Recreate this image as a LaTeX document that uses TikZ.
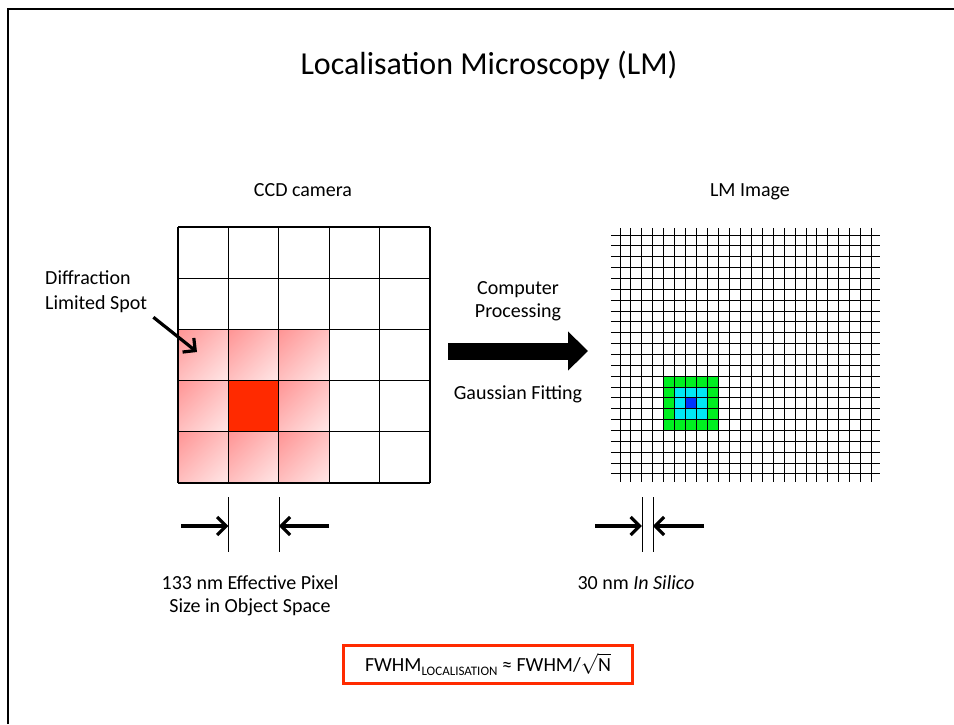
\documentclass[tikz,border=0pt]{standalone}
\usepackage{fontspec}
\setmainfont{Carlito}
\usetikzlibrary{arrows.meta,positioning,shadings}
\definecolor{lmred}{HTML}{FF2A00}
\definecolor{lmgreen}{HTML}{00F020}
\definecolor{lmcyan}{HTML}{00E8F5}
\definecolor{lmblue}{HTML}{0033FF}

\begin{document}
\begin{tikzpicture}[x=1pt, y=-1pt,
  ttl/.style={font=\fontsize{32}{38}\selectfont, inner sep=0pt},
  lbl/.style={font=\fontsize{20}{23}\selectfont, align=center, inner sep=0pt},
  cell/.style={draw=black, line width=1.2pt},
  fine/.style={draw=black, line width=0.9pt},
  spotcell/.style={upper left=red!42, lower right=red!9, upper right=red!25, lower left=red!25},
  dim/.style={-{Straight Barb[length=9pt,width=18pt]}, line width=3.2pt},
  procarrow/.style={line width=17pt, -{Triangle[length=20pt,width=38pt]}},
  fwhm/.style={draw=lmred, line width=3pt, minimum width=289pt, minimum height=38pt, font=\fontsize{20}{23}\selectfont}
]
\useasboundingbox (0,0) rectangle (954,724);
% --- slide frame ---
\draw[line width=2.5pt] (8,724) -- (8,9) -- (954,9);

% --- titles ---
\node[ttl, anchor=base] (title) at (489,74) {Localisation Microscopy (LM)};
\node[lbl, anchor=base] (ccd) at (303,196) {CCD camera};
\node[lbl, anchor=base] (lm) at (750,196) {LM Image};

% --- CCD camera: 5x5 pixels ---
\foreach \c in {0,...,2}
  \foreach \r in {2,...,4}
    \shade[spotcell] ({178+\c*50.4},{227+\r*51.2}) rectangle ++(50.4,51.2);
\fill[lmred] (228.4,380.6) rectangle ++(50.4,51.2);
\foreach \i in {0,...,5} {
  \draw[cell] ({178+\i*50.4},227) -- ({178+\i*50.4},483);
  \draw[cell] (178,{227+\i*51.2}) -- (430,{227+\i*51.2});
}
\coordinate (spottip) at (197,352);

% --- LM image: 23x22 pixels ---
\fill[lmgreen] (663.8,376.2) rectangle (718.5,430.5);
\fill[lmcyan] (674.7,387.1) rectangle (707.5,419.6);
\fill[lmblue] (685.6,397.9) rectangle (696.6,408.8);
\foreach \i in {0,...,23}
  \draw[fine] ({620+\i*10.94},228) -- ({620+\i*10.94},482);
\foreach \j in {0,...,22}
  \draw[fine] (611,{235+\j*10.86}) -- (880,{235+\j*10.86});

% --- labels ---
\node[lbl, align=left, anchor=west, font=\fontsize{20}{25}\selectfont] (spot) at (45,292) {Diffraction\\Limited Spot};
\node[lbl] (comp) at (518,301) {Computer\\Processing};
\node[lbl, anchor=base] (gauss) at (518,399) {Gaussian Fitting};
\node[lbl] (pixlbl) at (250,596) {133 nm Effective Pixel\\Size in Object Space};
\node[lbl, anchor=base] (silico) at (636,589) {30 nm \textit{In Silico}};
\node[fwhm] (formula) at (488,664) {FWHM{\raisebox{-4pt}{\fontsize{13}{14}\selectfont LOCALISATION}} ≈ FWHM/$\sqrt{\mathrm{N}}$};

% --- processing arrow ---
\coordinate (procA) at (448,351);
\coordinate (procB) at (588,351);
\draw[procarrow] (procA) -- (procB);

% --- pixel size markers ---
\coordinate (ccdL) at (228.4,526);
\coordinate (ccdR) at (278.8,526);
\coordinate (lmL) at (641.9,526);
\coordinate (lmR) at (652.8,526);
\draw[thin] (ccdL |- 0,497) -- (ccdL |- 0,552);
\draw[thin] (ccdR |- 0,497) -- (ccdR |- 0,552);
\draw[thin] (lmL |- 0,497) -- (lmL |- 0,552);
\draw[thin] (lmR |- 0,497) -- (lmR |- 0,552);
\draw[dim] (181,526) -- (ccdL);
\draw[dim] (329,526) -- (ccdR);
\draw[dim] (595,526) -- (lmL);
\draw[dim] (704,526) -- (lmR);

% --- spot pointer ---
\draw[dim] (spot.south east) ++(6,4) -- (spottip);
\end{tikzpicture}
\end{document}
